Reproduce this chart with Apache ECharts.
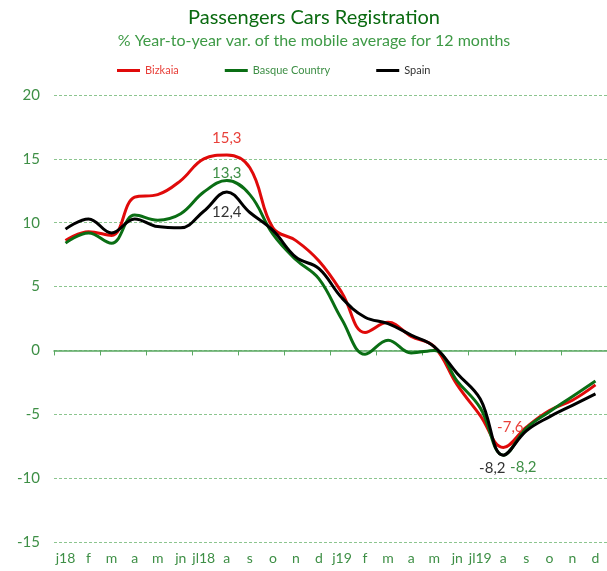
<!DOCTYPE html>
<html>
<head>
<meta charset="utf-8">
<script src="https://cdn.jsdelivr.net/npm/echarts@6/dist/echarts.min.js"></script>
<style>
  html, body { margin: 0; padding: 0; background: #fff; }
  #chart { width: 607px; height: 571px; }
</style>
</head>
<body>
<div id="chart"></div>
<script>
const months = ['j18', 'f', 'm', 'a', 'm', 'jn', 'jl18', 'a', 's', 'o', 'n', 'd',
  'j19', 'f', 'm', 'a', 'm', 'jn', 'jl19', 'a', 's', 'o', 'n', 'd'];

const bizkaia = [8.6, 9.3, 9.0, 12.0, 12.2, 13.3, 15.0, 15.3, 14.3, 9.6, 8.6, 7.0,
  4.5, 1.4, 2.2, 1.1, 0.3, -2.7, -5.1, -7.6, -6.0, -4.7, -3.9, -2.7];
const basque = [8.4, 9.2, 8.4, 10.6, 10.2, 10.7, 12.4, 13.3, 12.2, 9.1, 7.1, 5.6,
  2.4, -0.3, 0.8, -0.2, 0.0, -2.4, -4.5, -8.2, -6.1, -4.8, -3.6, -2.4];
const spain = [9.5, 10.3, 9.2, 10.3, 9.7, 9.6, 10.9, 12.4, 10.8, 9.4, 7.3, 6.4,
  4.1, 2.6, 2.1, 1.2, 0.3, -1.8, -3.8, -8.2, -6.3, -5.2, -4.3, -3.4];

// labelled points: index -> [position, distance, x offset]
const bizkaiaLabels = { 7: ['top', 9, 0], 19: ['top', 13, 7] };
const basqueLabels = { 7: ['top', 0, 0], 19: ['bottom', 5, 20] };
const spainLabels = { 7: ['bottom', 13, 0], 19: ['bottom', 6, -11] };

const fmt = v => String(v).replace('.', ',');

function withLabels(values, labels, color) {
  return values.map((v, i) => {
    if (!(i in labels)) return { value: v, label: { show: false } };
    const [pos, dist, dx] = labels[i];
    return {
      value: v,
      label: {
        show: true, position: pos, distance: dist, offset: [dx, 0], color: color,
        fontSize: 15, fontFamily: 'Lato', formatter: p => fmt(p.value)
      }
    };
  });
}

const chart = echarts.init(document.getElementById('chart'));

const lineSeries = (name, data, color) => ({
  name: name,
  type: 'line',
  xAxisIndex: 0,
  data: data,
  smooth: 0.4,
  symbol: 'circle',
  symbolSize: 0,
  showSymbol: true,
  showAllSymbol: true,
  lineStyle: { color: color, width: 3 },
  itemStyle: { color: color },
  emphasis: { disabled: true },
  z: 3
});

chart.setOption({
  textStyle: { fontFamily: 'Lato' },
  title: {
    text: 'Passengers Cars Registration',
    subtext: '% Year-to-year var. of the mobile average for 12 months',
    left: 309,
    textAlign: 'center',
    top: 3,
    itemGap: 5,
    textStyle: { color: '#0a6a10', fontSize: 20, fontWeight: 'normal', fontFamily: 'Lato' },
    subtextStyle: { color: '#3e9a46', fontSize: 16, fontFamily: 'Lato' }
  },
  legend: {
    left: 112,
    top: 60,
    icon: 'rect',
    itemWidth: 23,
    itemHeight: 3,
    itemGap: 46,
    textStyle: { fontSize: 11, fontFamily: 'Lato' },
    data: [
      { name: 'Bizkaia', textStyle: { color: '#e8403a' } },
      { name: 'Basque Country', textStyle: { color: '#3e8f46' } },
      { name: 'Spain', textStyle: { color: '#333' } }
    ]
  },
  grid: { left: 54, right: -6, top: 95, bottom: 29, containLabel: false },
  xAxis: [
    {
      type: 'category',
      data: months,
      position: 'bottom',
      axisLine: { show: false, onZero: false },
      axisTick: { show: false },
      axisLabel: { color: '#3e8f46', fontSize: 14, margin: 9, interval: 0 }
    },
    {
      type: 'category',
      data: months,
      position: 'top',
      axisLine: { show: true, onZero: true, lineStyle: { color: '#5aa862', width: 1.5 } },
      axisTick: { show: true, inside: true, length: 5, lineStyle: { color: '#5aa862' } },
      axisLabel: { show: false }
    }
  ],
  yAxis: {
    type: 'value',
    min: -15,
    max: 20,
    interval: 5,
    axisLine: { show: false },
    axisTick: { show: false },
    axisLabel: { color: '#3e8f46', fontSize: 15, margin: 14 },
    splitLine: { lineStyle: { color: '#8cc58f', type: [3, 2], width: 1 } }
  },
  series: [
    lineSeries('Bizkaia', withLabels(bizkaia, bizkaiaLabels, '#e8403a'), '#e00a0a'),
    lineSeries('Basque Country', withLabels(basque, basqueLabels, '#3e8f46'), '#0a6e14'),
    lineSeries('Spain', withLabels(spain, spainLabels, '#333'), '#000')
  ]
});
</script>
</body>
</html>
